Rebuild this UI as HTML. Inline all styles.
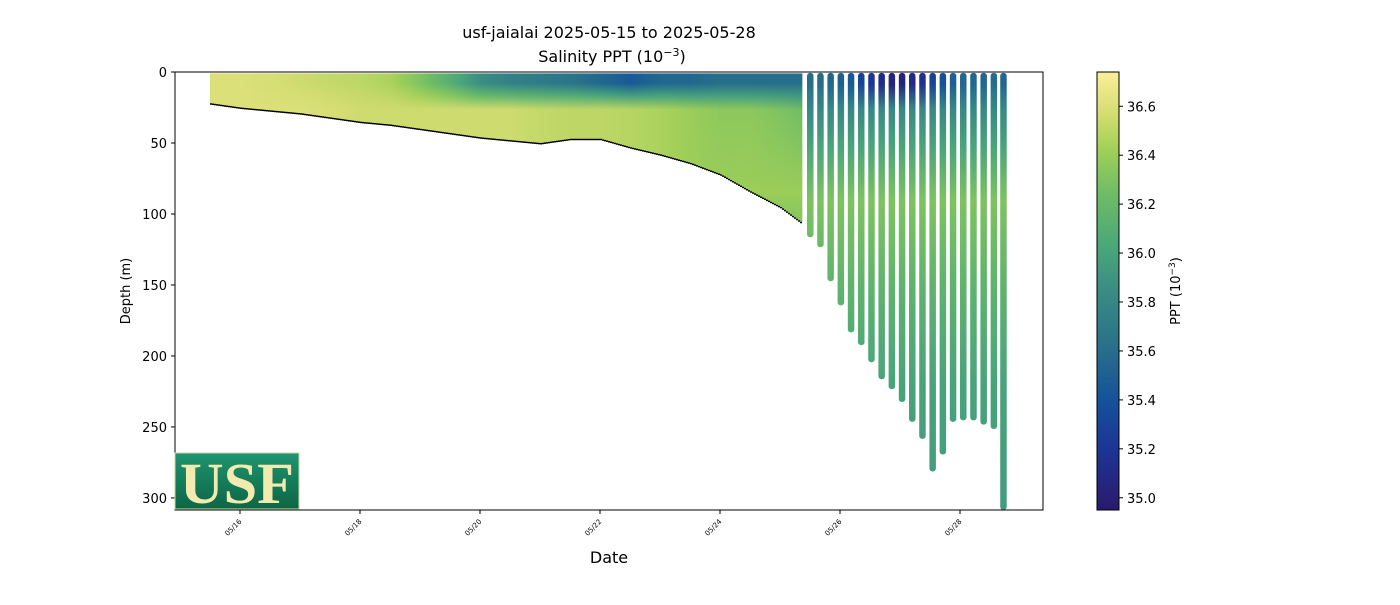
<!DOCTYPE html>
<html><head><meta charset="utf-8"><style>
body{margin:0;background:#fff;font-family:"Liberation Sans",sans-serif}
svg text{font-family:"DejaVu Sans","Liberation Sans",sans-serif}
</style></head><body>
<svg id="chart" width="1400" height="600" xmlns="http://www.w3.org/2000/svg">
<defs id="defs">
<linearGradient id="cbar" x1="0" y1="1" x2="0" y2="0">
<stop offset="0" stop-color="#2a1a6c"/><stop offset="0.14" stop-color="#1c3596"/><stop offset="0.25" stop-color="#14529a"/><stop offset="0.37" stop-color="#28708a"/><stop offset="0.5" stop-color="#3a8c84"/><stop offset="0.6" stop-color="#4aa67a"/><stop offset="0.72" stop-color="#6dbc66"/><stop offset="0.82" stop-color="#a0cf58"/><stop offset="0.9" stop-color="#d2dc70"/><stop offset="1" stop-color="#fdee9a"/>
</linearGradient>
<linearGradient id="logoG" x1="0" y1="0" x2="0" y2="1"><stop offset="0" stop-color="#1f9470"/><stop offset="1" stop-color="#0c6645"/></linearGradient>
</defs>
<text x="609" y="38" text-anchor="middle" font-size="16">usf-jaialai 2025-05-15 to 2025-05-28</text>
<text x="612" y="62" text-anchor="middle" font-size="16">Salinity PPT (10<tspan dy="-6" font-size="11">−3</tspan><tspan dy="6">)</tspan></text>
<g id="marks"></g>
<rect x="175" y="72" width="868" height="438" fill="none" stroke="#000" stroke-width="1"/>
<g id="yaxis"></g>
<g id="xaxis"></g>
<text x="130" y="291" text-anchor="middle" font-size="13" transform="rotate(-90 130 291)">Depth (m)</text>
<text x="609" y="563" text-anchor="middle" font-size="16">Date</text>
<g>
<rect x="175" y="453" width="124" height="56" fill="url(#logoG)" stroke="#c9d9a0" stroke-width="1"/>
<text x="237" y="503" text-anchor="middle" font-size="58" font-weight="bold" fill="#f3eab0" style="font-family:'Liberation Serif',serif" textLength="114" lengthAdjust="spacingAndGlyphs">USF</text>
</g>
<rect x="1097" y="72" width="22" height="438" fill="url(#cbar)" stroke="#000" stroke-width="1"/>
<g id="cbaxis"></g>
<text x="1180" y="291" text-anchor="middle" font-size="13" transform="rotate(-90 1180 291)">PPT (10<tspan dy="-5" font-size="9">−3</tspan><tspan dy="5">)</tspan></text>
</svg>
<script>
// continuous section
const contDays = [15.5,16,16.5,17,17.5,18,18.5,19,19.5,20,20.5,21,21.5,22,22.5,23,23.5,24,24.5,25,25.35];
const contBottom = [22,25,27,29,32,35,37,40,43,46,48,50,47,47,53,58,64,72,84,95,106];
const contSurf = [36.6,36.6,36.58,36.55,36.52,36.5,36.45,36.3,36.1,35.85,35.75,35.7,35.65,35.55,35.45,35.55,35.55,35.6,35.6,35.6,35.6];
const contMid = [36.6,36.6,36.6,36.6,36.58,36.55,36.55,36.55,36.55,36.55,36.55,36.52,36.5,36.5,36.48,36.45,36.4,36.35,36.35,36.3,36.25];
// profiles (dives)
const diveDays = [25.5,25.67,25.84,26.01,26.18,26.35,26.52,26.69,26.86,27.03,27.2,27.37,27.54,27.71,27.88,28.05,28.22,28.39,28.56,28.72];
const diveDepth = [115,122,146,163,182,191,203,215,222,231,245,257,280,268,245,244,244,247,250,307];
const diveSurf = [35.6,35.6,35.55,35.5,35.45,35.3,35.2,35.1,35.05,35.05,35.1,35.15,35.3,35.4,35.5,35.55,35.55,35.55,35.6,35.55];
// axes
const yTicks = [0,50,100,150,200,250,300];
const xTickDays = [16,18,20,22,24,26,28];
const xTickLabels = ["05/16","05/18","05/20","05/22","05/24","05/26","05/28"];
const cTicks = [35.0,35.2,35.4,35.6,35.8,36.0,36.2,36.4,36.6];

const X0=175,X1=1043,Y0=72,Y1=510, D0=14.917, D1=29.383, DEP1=308.5, CMIN=34.95, CMAX=36.74;
const xs = d => X0+(d-D0)/(D1-D0)*(X1-X0);
const ys = m => Y0+m/DEP1*(Y1-Y0);
const cs = v => Y1-(v-CMIN)/(CMAX-CMIN)*(Y1-Y0);
const NS='http://www.w3.org/2000/svg';
const stops=[[0,[42,26,108]],[0.14,[28,53,150]],[0.25,[20,82,154]],[0.37,[40,112,138]],[0.5,[58,140,132]],[0.6,[74,166,122]],[0.72,[109,188,102]],[0.82,[160,207,88]],[0.9,[210,220,112]],[1,[253,238,154]]];
function cmap(v){let f=Math.max(0,Math.min(1,(v-CMIN)/(CMAX-CMIN)));for(let i=1;i<stops.length;i++){if(f<=stops[i][0]){const a=stops[i-1],b=stops[i],t=(f-a[0])/(b[0]-a[0]);const c=a[1].map((q,k)=>Math.round(q+(b[1][k]-q)*t));return `rgb(${c})`;}}return 'rgb(253,238,154)';}
function interp(arrX,arrY,x){if(x<=arrX[0])return arrY[0];for(let i=1;i<arrX.length;i++){if(x<=arrX[i]){const t=(x-arrX[i-1])/(arrX[i]-arrX[i-1]);return arrY[i-1]+(arrY[i]-arrY[i-1])*t;}}return arrY[arrY.length-1];}
function el(tag,attrs,parent){const e=document.createElementNS(NS,tag);for(const k in attrs)e.setAttribute(k,attrs[k]);parent.appendChild(e);return e;}
const defs=document.getElementById('defs'), marks=document.getElementById('marks');
let gid=0;
function profileGrad(surf,mid,maxD,deep){
  const id='g'+(gid++);
  const g=el('linearGradient',{id:id,x1:0,y1:0,x2:0,y2:1},defs);
  let pts=[[0,surf],[7,surf],[16,(surf+mid)/2],[26,mid],[85,Math.max(mid,36.4)],[150,36.15],[220,36.0],[310,35.95]];
  if(deep){pts=[[0,surf],[8,surf],[25,35.8],[50,36.0],[90,36.3],[150,36.15],[220,36.0],[310,35.95]];}
  pts.forEach(p=>{if(p[0]<=maxD+1){el('stop',{offset:Math.min(1,p[0]/maxD),'stop-color':cmap(p[1])},g);}});
  el('stop',{offset:1,'stop-color':cmap(interp(pts.map(p=>p[0]),pts.map(p=>p[1]),maxD))},g);
  return id;
}
// continuous columns
const xa=xs(contDays[0]), xb=xs(contDays[contDays.length-1]);
for(let x=xa;x<xb;x+=2){
  const d=D0+(x-X0)/(X1-X0)*(D1-D0);
  const bot=interp(contDays,contBottom,d), s=interp(contDays,contSurf,d), m=interp(contDays,contMid,d);
  const id=profileGrad(s,m,bot,false);
  const r=el('rect',{x:x,y:ys(1),width:2.4,height:ys(bot)-ys(1),fill:`url(#${id})`},marks);
  
  
  const b=el('rect',{x:x,y:ys(bot),width:2,height:1.5,fill:'#000'},marks);
  
  
}
// dives
diveDays.forEach((d,i)=>{
  const id=profileGrad(diveSurf[i],36.2,diveDepth[i],true);
  const r=el('rect',{x:xs(d)-3,y:ys(2)-2,width:6.5,height:ys(diveDepth[i])-ys(2)+4,rx:3,fill:`url(#${id})`},marks);
  
  
});
// y axis
const ya=document.getElementById('yaxis');
yTicks.forEach(t=>{
  const l=el('line',{x1:X0-4,x2:X0,y1:ys(t),y2:ys(t),stroke:'#000'},ya);
  
  
  const tx=el('text',{x:X0-8,y:ys(t)+5,'text-anchor':'end','font-size':13},ya);
  tx.textContent=t;
  
  
});
const xa2=document.getElementById('xaxis');
xTickDays.forEach((t,i)=>{
  const x=xs(t);
  const l=el('line',{x1:x,x2:x,y1:Y1,y2:Y1+4,stroke:'#000'},xa2);
  
  
  const tx=el('text',{x:x+2,y:Y1+12,'text-anchor':'end','font-size':7,transform:`rotate(-45 ${x+2} ${Y1+12})`},xa2);
  tx.textContent=xTickLabels[i];
  
  
});
const cb=document.getElementById('cbaxis');
cTicks.forEach(t=>{
  const l=el('line',{x1:1119,x2:1123,y1:cs(t),y2:cs(t),stroke:'#000'},cb);
  
  
  const tx=el('text',{x:1127,y:cs(t)+5,'font-size':13},cb);
  tx.textContent=t.toFixed(1);
  
  
});
</script>
</body></html>
